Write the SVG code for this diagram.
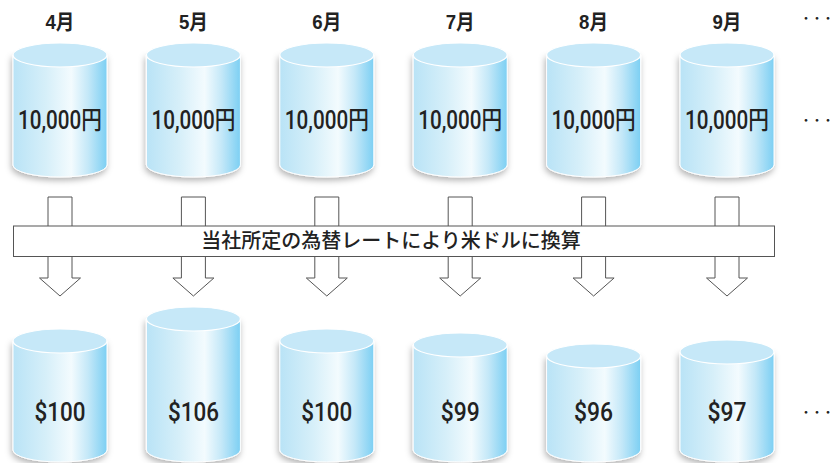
<svg xmlns="http://www.w3.org/2000/svg" width="832" height="463" viewBox="0 0 832 463">
<style>
.body{fill:url(#cylg);stroke:#ffffff;stroke-width:1;filter:url(#sh)}
.top{fill:#c6e8f8;stroke:#ffffff;stroke-width:1.2}
.val{font-family:Roboto,"Liberation Sans","Noto Sans CJK JP",sans-serif;font-size:25px;font-weight:500;fill:#222;text-anchor:middle}
.mon{font-family:"Liberation Sans","Noto Sans CJK JP",sans-serif;font-size:21px;font-weight:bold;fill:#222;text-anchor:middle}
.dots{font-family:"Noto Sans CJK JP",sans-serif;font-size:14px;font-weight:bold;fill:#222}
.arr{fill:#ffffff;stroke:#555;stroke-width:1}
.ban{fill:#ffffff;stroke:#555;stroke-width:1}
.bt{font-family:"Noto Sans CJK JP",sans-serif;font-size:20px;font-weight:500;fill:#222;text-anchor:middle}
</style>
<defs>
<linearGradient id="cylg" x1="0" y1="0" x2="1" y2="0">
<stop offset="0" stop-color="#b9e3f6"/>
<stop offset="0.35" stop-color="#d6eff9"/>
<stop offset="0.62" stop-color="#f3fbfe"/>
<stop offset="0.8" stop-color="#c4e8f8"/>
<stop offset="1" stop-color="#7ccff3"/>
</linearGradient>
<filter id="sh" x="-20%" y="-10%" width="140%" height="130%">
<feDropShadow dx="-1" dy="3" stdDeviation="3" flood-color="#000" flood-opacity="0.3"/>
</filter>
</defs>

<g id="labels">
<text class="mon" x="60" y="29" textLength="29" lengthAdjust="spacingAndGlyphs">4月</text>
<text class="mon" x="193.4" y="29" textLength="29" lengthAdjust="spacingAndGlyphs">5月</text>
<text class="mon" x="326.8" y="29" textLength="29" lengthAdjust="spacingAndGlyphs">6月</text>
<text class="mon" x="460.2" y="29" textLength="29" lengthAdjust="spacingAndGlyphs">7月</text>
<text class="mon" x="593.6" y="29" textLength="29" lengthAdjust="spacingAndGlyphs">8月</text>
<text class="mon" x="727" y="29" textLength="29" lengthAdjust="spacingAndGlyphs">9月</text>
<text class="dots" x="802.5" y="23">･<tspan dx="4">･</tspan><tspan dx="4">･</tspan></text>
<text class="dots" x="802.5" y="125">･<tspan dx="4">･</tspan><tspan dx="4">･</tspan></text>
<text class="dots" x="802.5" y="417">･<tspan dx="4">･</tspan><tspan dx="4">･</tspan></text>
</g>

<g id="connectors">
<polygon class="arr" points="48,197 72,197 72,278 80.5,278 60,296 39.5,278 48,278"/>
<polygon class="arr" points="181.4,197 205.4,197 205.4,278 213.9,278 193.4,296 172.9,278 181.4,278"/>
<polygon class="arr" points="314.8,197 338.8,197 338.8,278 347.3,278 326.8,296 306.3,278 314.8,278"/>
<polygon class="arr" points="448.2,197 472.2,197 472.2,278 480.7,278 460.2,296 439.7,278 448.2,278"/>
<polygon class="arr" points="581.6,197 605.6,197 605.6,278 614.1,278 593.6,296 573.1,278 581.6,278"/>
<polygon class="arr" points="715,197 739,197 739,278 747.5,278 727,296 706.5,278 715,278"/>
</g>

<g id="banner">
<rect class="ban" x="13.5" y="226" width="761" height="30.5"/>
<text class="bt" x="391" y="248">当社所定の為替レートにより米ドルに換算</text>
</g>

<g id="yen-4">
<path class="body" d="M13,55 V165 A47,12 0 0 0 107,165 V55 Z"/>
<ellipse class="top" cx="60" cy="55" rx="47" ry="12"/>
<text class="val" x="60" y="129" textLength="84" lengthAdjust="spacingAndGlyphs">10,000円</text>
</g>
<g id="yen-5">
<path class="body" d="M146.4,55 V165 A47,12 0 0 0 240.4,165 V55 Z"/>
<ellipse class="top" cx="193.4" cy="55" rx="47" ry="12"/>
<text class="val" x="193.4" y="129" textLength="84" lengthAdjust="spacingAndGlyphs">10,000円</text>
</g>
<g id="yen-6">
<path class="body" d="M279.8,55 V165 A47,12 0 0 0 373.8,165 V55 Z"/>
<ellipse class="top" cx="326.8" cy="55" rx="47" ry="12"/>
<text class="val" x="326.8" y="129" textLength="84" lengthAdjust="spacingAndGlyphs">10,000円</text>
</g>
<g id="yen-7">
<path class="body" d="M413.2,55 V165 A47,12 0 0 0 507.2,165 V55 Z"/>
<ellipse class="top" cx="460.2" cy="55" rx="47" ry="12"/>
<text class="val" x="460.2" y="129" textLength="84" lengthAdjust="spacingAndGlyphs">10,000円</text>
</g>
<g id="yen-8">
<path class="body" d="M546.6,55 V165 A47,12 0 0 0 640.6,165 V55 Z"/>
<ellipse class="top" cx="593.6" cy="55" rx="47" ry="12"/>
<text class="val" x="593.6" y="129" textLength="84" lengthAdjust="spacingAndGlyphs">10,000円</text>
</g>
<g id="yen-9">
<path class="body" d="M680,55 V165 A47,12 0 0 0 774,165 V55 Z"/>
<ellipse class="top" cx="727" cy="55" rx="47" ry="12"/>
<text class="val" x="727" y="129" textLength="84" lengthAdjust="spacingAndGlyphs">10,000円</text>
</g>

<g id="usd-4">
<path class="body" d="M13,341 V450 A47,12 0 0 0 107,450 V341 Z"/>
<ellipse class="top" cx="60" cy="341" rx="47" ry="12"/>
<text class="val" x="60" y="421" textLength="51" lengthAdjust="spacingAndGlyphs">$100</text>
</g>
<g id="usd-5">
<path class="body" d="M146.4,319 V450 A47,12 0 0 0 240.4,450 V319 Z"/>
<ellipse class="top" cx="193.4" cy="319" rx="47" ry="12"/>
<text class="val" x="193.4" y="421" textLength="51" lengthAdjust="spacingAndGlyphs">$106</text>
</g>
<g id="usd-6">
<path class="body" d="M279.8,341 V450 A47,12 0 0 0 373.8,450 V341 Z"/>
<ellipse class="top" cx="326.8" cy="341" rx="47" ry="12"/>
<text class="val" x="326.8" y="421" textLength="51" lengthAdjust="spacingAndGlyphs">$100</text>
</g>
<g id="usd-7">
<path class="body" d="M413.2,345 V450 A47,12 0 0 0 507.2,450 V345 Z"/>
<ellipse class="top" cx="460.2" cy="345" rx="47" ry="12"/>
<text class="val" x="460.2" y="421" textLength="39" lengthAdjust="spacingAndGlyphs">$99</text>
</g>
<g id="usd-8">
<path class="body" d="M546.6,356 V450 A47,12 0 0 0 640.6,450 V356 Z"/>
<ellipse class="top" cx="593.6" cy="356" rx="47" ry="12"/>
<text class="val" x="593.6" y="421" textLength="39" lengthAdjust="spacingAndGlyphs">$96</text>
</g>
<g id="usd-9">
<path class="body" d="M680,352 V450 A47,12 0 0 0 774,450 V352 Z"/>
<ellipse class="top" cx="727" cy="352" rx="47" ry="12"/>
<text class="val" x="727" y="421" textLength="39" lengthAdjust="spacingAndGlyphs">$97</text>
</g>
</svg>
